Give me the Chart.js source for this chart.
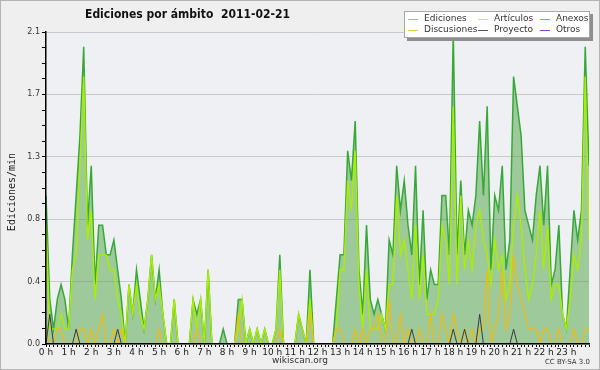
<!DOCTYPE html>
<html>
<head>
<meta charset="utf-8">
<script src="https://cdn.jsdelivr.net/npm/chart.js@4.4.0/dist/chart.umd.min.js"></script>
<style>
  html, body { margin: 0; padding: 0; background: #efefef; }
  #wrap { width: 600px; height: 370px; }
</style>
</head>
<body>
<div id="wrap"><canvas id="chart" width="600" height="370"></canvas></div>
<script>
// one value every 10 minutes, 0:00 .. 24:00 (edits per minute)
const hourLabels = ["0 h","1 h","2 h","3 h","4 h","5 h","6 h","7 h","8 h","9 h","10 h","11 h",
  "12 h","13 h","14 h","15 h","16 h","17 h","18 h","19 h","20 h","21 h","22 h","23 h"];

const ediciones = [
  1.0,0.3,0.1,0.3,0.4,0.3,0.1,0.6,1.0,1.4,2.0,0.8,
  1.2,0.4,0.8,0.8,0.6,0.6,0.7,0.5,0.3,0,0.4,0.2,
  0.5,0.3,0.1,0.3,0.6,0.3,0.5,0.2,0,0,0.3,0,
  0,0,0,0.3,0.2,0.3,0,0.5,0,0,0,0.1,
  0,0,0,0.3,0.3,0,0.1,0,0.1,0,0.1,0,
  0,0.1,0.6,0,0,0,0,0.2,0.1,0,0.5,0,
  0,0,0,0,0,0.3,0.6,0.6,1.3,1.1,1.5,0.5,
  0.2,0.8,0.3,0.2,0.3,0.2,0.1,0.7,0.6,1.2,0.9,1.1,
  0.8,0.6,1.2,0.4,0.9,0.3,0.5,0.4,0.4,1.0,1.0,0.6,
  2.1,0.6,1.1,0.6,0.9,0.8,1.0,1.5,1.0,1.6,0.5,1.0,
  0.9,1.2,0.5,0.7,1.8,1.6,1.4,0.9,0.8,0.7,1.0,1.2,
  0.8,1.2,0.4,0.5,0.8,0.2,0.1,0.5,0.9,0.7,0.9,2.0,
  1.2
];
const articulos = [
  0.8,0.1,0.1,0.1,0.2,0.1,0.1,0.5,0.6,1.2,1.8,0.7,
  0.9,0.3,0.6,0.6,0.6,0.5,0.5,0.3,0.2,0,0.4,0.2,
  0.4,0.2,0.1,0.3,0.6,0.3,0.4,0.2,0,0,0.3,0,
  0,0,0,0.3,0.1,0.3,0,0.5,0,0,0,0,
  0,0,0,0.1,0.3,0,0.1,0,0.1,0,0.1,0,
  0,0.1,0.5,0,0,0,0,0.2,0.1,0,0.3,0,
  0,0,0,0,0,0.1,0.5,0.5,1.1,0.9,1.3,0.4,
  0.1,0.5,0.1,0.1,0.1,0.2,0.1,0.4,0.4,1.0,0.6,0.7,
  0.5,0.3,0.8,0.3,0.6,0.2,0.2,0.2,0.3,0.8,0.7,0.4,
  1.6,0.4,1.0,0.5,0.7,0.5,0.8,0.9,0.7,0.6,0.4,0.7,
  0.5,0.6,0.3,0.4,0.8,1.0,0.8,0.5,0.3,0.4,0.6,0.9,
  0.5,0.8,0.3,0.4,0.4,0.2,0.1,0.3,0.6,0.5,0.7,1.8,
  0.7
];
const discusiones = [
  0.1,0,0,0.1,0.1,0,0,0,0,0.1,0.1,0,
  0.1,0,0.1,0.2,0,0,0.1,0,0.1,0,0,0,
  0,0,0,0,0,0,0.1,0,0,0,0,0,
  0,0,0,0,0.1,0,0,0,0,0,0,0,
  0,0,0,0.2,0,0,0,0,0,0,0,0,
  0,0,0.1,0,0,0,0,0,0,0,0.2,0,
  0,0,0,0,0,0.1,0.1,0,0,0,0.1,0,
  0.1,0,0.1,0.1,0.2,0,0,0.3,0,0,0.2,0,
  0.1,0,0,0.1,0,0,0.2,0,0,0.2,0.1,0,
  0.2,0.1,0,0.1,0,0.1,0,0.1,0.1,0.5,0,0.1,
  0.2,0.5,0.1,0.2,0.6,0.4,0.3,0.2,0.1,0.1,0.1,0,
  0.1,0.1,0,0,0.1,0,0,0,0.1,0,0,0.1,
  0.1
];
const proyecto = [
  0,0.2,0,0,0,0,0,0,0.1,0,0,0,
  0,0,0,0,0,0,0,0.1,0,0,0,0,
  0,0,0,0,0,0,0,0,0,0,0,0,
  0,0,0,0,0,0,0,0,0,0,0,0,
  0,0,0,0,0,0,0,0,0,0,0,0,
  0,0,0,0,0,0,0,0,0,0,0,0,
  0,0,0,0,0,0,0,0,0,0,0,0,
  0,0,0,0,0,0,0,0,0,0,0,0,
  0,0.1,0,0,0,0,0,0,0,0,0,0,
  0.1,0,0,0.1,0,0,0,0.2,0,0,0,0,
  0,0,0,0,0.1,0,0,0,0,0,0,0,
  0,0,0,0,0,0,0,0,0,0,0,0,
  0
];
const anexos = [
  0,0,0,0,0,0,0,0,0,0,0,0, 0,0,0,0,0,0,0,0,0,0,0,0,
  0,0,0,0,0,0,0,0,0,0,0,0, 0,0,0,0,0,0,0,0,0,0,0,0,
  0,0,0,0,0,0,0,0,0,0,0,0, 0,0,0,0,0,0,0,0,0,0,0,0,
  0,0,0,0,0,0,0,0,0,0,0,0, 0,0,0,0,0,0,0,0,0,0,0,0,
  0,0,0,0,0,0,0,0,0,0,0,0, 0,0,0,0,0,0,0,0,0,0,0,0,
  0,0,0,0,0,0,0,0,0,0,0,0, 0,0,0,0,0,0,0,0,0,0,0,0,
  0
];
const otros = [
  0,0,0,0,0,0,0,0,0,0,0,0, 0,0,0,0,0,0,0,0,0,0,0,0,
  0,0,0,0,0,0,0,0,0,0,0,0, 0,0,0,0,0,0,0,0,0,0,0,0,
  0,0,0,0,0,0,0,0,0,0,0,0, 0,0,0,0,0,0,0,0,0,0,0,0,
  0,0,0,0,0,0,0,0,0,0,0,0, 0,0,0,0,0,0,0,0,0,0,0,0,
  0,0,0,0,0,0,0,0,0,0,0,0, 0,0,0,0,0,0,0,0,0,0,0,0,
  0,0,0,0,0,0,0,0,0,0,0,0, 0,0,0,0,0,0,0,0,0,0,0,0,
  0
];

const legendItems = [
  { label: "Ediciones",   color: "#88cc88" },
  { label: "Artículos",   color: "#c8ea60" },
  { label: "Anexos",      color: "#ee7f4f" },
  { label: "Discusiones", color: "#eec64a" },
  { label: "Proyecto",    color: "#555555" },
  { label: "Otros",       color: "#9040ee" }
];

const pts = arr => arr.map((v, i) => ({ x: i, y: v }));

// squeeze text horizontally when the installed font is wider than the original
function fitText(ctx, text, x, y, width) {
  const w = ctx.measureText(text).width;
  const s = width && w > width ? width / w : 1;
  ctx.save();
  ctx.translate(x, y);
  ctx.scale(s, 1);
  ctx.fillText(text, 0, 0);
  ctx.restore();
}

const decor = {
  id: "decor",
  beforeDraw(chart) {
    const { ctx, chartArea: a } = chart;
    ctx.save();
    ctx.fillStyle = "#efefef";
    ctx.fillRect(0, 0, chart.width, chart.height);
    ctx.strokeStyle = "#b4b4b4";
    ctx.lineWidth = 1;
    ctx.strokeRect(0.5, 0.5, chart.width - 1, chart.height - 1);
    ctx.fillStyle = "#eef0f3";
    ctx.fillRect(a.left, a.top, a.right - a.left, a.bottom - a.top);
    ctx.restore();
  },
  afterDraw(chart) {
    const ctx = chart.ctx;
    ctx.save();
    ctx.fillStyle = "#111";
    ctx.textBaseline = "middle";
    ctx.textAlign = "left";
    ctx.font = 'bold 13px "DejaVu Sans"';
    fitText(ctx, "Ediciones por ámbito  2011-02-21", 85, 15, 205);

    // y axis title
    ctx.save();
    ctx.translate(12, 192);
    ctx.rotate(-Math.PI / 2);
    ctx.textAlign = "center";
    ctx.font = '10px "DejaVu Sans Mono"';
    ctx.fillStyle = "#222";
    ctx.fillText("Ediciones/min", 0, 0);
    ctx.restore();

    ctx.fillStyle = "#333";
    ctx.textAlign = "center";
    ctx.font = '9px "DejaVu Sans"';
    ctx.fillText("wikiscan.org", 300, 361);
    ctx.textAlign = "right";
    ctx.font = '7px "DejaVu Sans"';
    ctx.fillText("CC BY-SA 3.0", 590, 362);

    // legend box with shadow
    const bx = 404, by = 11, bw = 186, bh = 27;
    ctx.fillStyle = "#8e8e8e";
    ctx.fillRect(bx + 3, by + 3, bw, bh);
    ctx.fillStyle = "#ffffff";
    ctx.fillRect(bx, by, bw, bh);
    ctx.strokeStyle = "#a8a8a8";
    ctx.strokeRect(bx + 0.5, by + 0.5, bw - 1, bh - 1);
    const colX = [408, 478, 540];
    const rowY = [19, 30];
    ctx.textAlign = "left";
    ctx.font = '9px "DejaVu Sans"';
    legendItems.forEach((it, k) => {
      const x = colX[k % 3], y = rowY[Math.floor(k / 3)];
      ctx.strokeStyle = it.color;
      ctx.lineWidth = 1;
      ctx.beginPath();
      ctx.moveTo(x, y + 0.5);
      ctx.lineTo(x + 10, y + 0.5);
      ctx.stroke();
      ctx.fillStyle = "#333";
      fitText(ctx, it.label, x + 16, y, 54);
    });
    ctx.restore();
  }
};

Chart.defaults.font.family = '"DejaVu Sans", sans-serif';

new Chart(document.getElementById("chart"), {
  type: "line",
  data: {
    datasets: [
      { label: "Proyecto", data: pts(proyecto), borderColor: "#3a3a3a", borderWidth: 1, order: 1 },
      { label: "Otros", data: pts(otros), borderColor: "#9040ee", borderWidth: 1, order: 2 },
      { label: "Anexos", data: pts(anexos), borderColor: "#ee7f4f", borderWidth: 1, order: 3 },
      { label: "Discusiones", data: pts(discusiones), borderColor: "#efbd10", borderWidth: 1.2, order: 4 },
      { label: "Artículos", data: pts(articulos), borderColor: "#aaee00", borderWidth: 1.4, order: 5 },
      { label: "Ediciones", data: pts(ediciones), borderColor: "#38a838", borderWidth: 1.5,
        backgroundColor: "rgba(76,162,68,0.5)", fill: "origin", order: 6 }
    ]
  },
  options: {
    responsive: false,
    animation: false,
    devicePixelRatio: 1,
    layout: { padding: { top: 32, right: 11, left: 0, bottom: 0 } },
    elements: { point: { radius: 0 }, line: { tension: 0 } },
    plugins: { legend: { display: false }, tooltip: { enabled: false } },
    scales: {
      x: {
        type: "linear", min: 0, max: 144,
        afterFit: s => { s.height = 26; },
        border: { display: true, color: "#000", width: 1.5, z: 1 },
        grid: { drawOnChartArea: false, drawTicks: true, tickLength: 3, color: "#000" },
        ticks: {
          stepSize: 1, autoSkip: false, maxRotation: 0, padding: 0,
          color: "#222", font: { size: 9 },
          callback: v => (v % 6 === 0 && v < 144) ? hourLabels[v / 6] : ""
        }
      },
      y: {
        min: 0, max: 2.1,
        afterFit: s => { s.width = 46; },
        border: { display: true, color: "#000", width: 1.5, z: 1 },
        grid: {
          color: c => (c.index % 4 === 0 ? "#c9c9c9" : "rgba(0,0,0,0)"),
          tickColor: "#000", tickLength: 4
        },
        ticks: {
          stepSize: 0.105, autoSkip: false, padding: 2,
          color: "#333", font: { size: 8 },
          callback: (v, i) => (i % 4 === 0 ? v.toFixed(1) : "")
        }
      }
    }
  },
  plugins: [decor]
});
</script>
</body>
</html>
